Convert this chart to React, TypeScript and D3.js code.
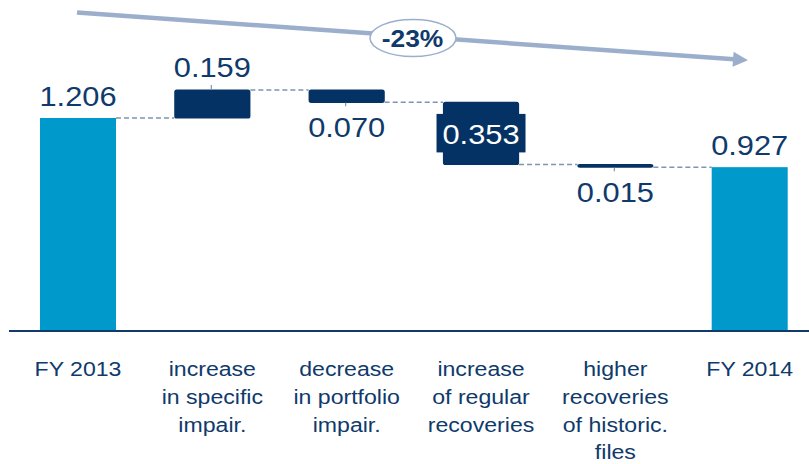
import React from "react";
import * as d3 from "d3";

// Waterfall: cost of risk bridge FY 2013 -> FY 2014
const categories: string[][] = [
  ["FY 2013"],
  ["increase", "in specific", "impair."],
  ["decrease", "in portfolio", "impair."],
  ["increase", "of regular", "recoveries"],
  ["higher", "recoveries", "of historic.", "files"],
  ["FY 2014"],
];
// signed steps; first and last entries are totals
const kinds = ["total", "delta", "delta", "delta", "delta", "total"];
const values = [1.206, 0.159, -0.07, -0.353, -0.015, 0.927];
const valueLabels = ["1.206", "0.159", "0.070", "0.353", "0.015", "0.927"];
const labelPlacement = ["above", "above", "below", "inside", "below", "above"];
const changeLabel = "-23%";

const W = 809;
const H = 464;
const NAVY = "#053264";
const TEXT = "#0f3a6b";
const LIGHT = "#0099cc";
const DASH = "#7f95b1";
const ARROW = "#9bafcd";
const FONT = "'Liberation Sans', Arial, sans-serif";

export default function App() {
  const x = d3
    .scalePoint<number>()
    .domain(d3.range(categories.length))
    .range([78, 749.7]);
  const y = d3.scaleLinear().domain([0, 1.206]).range([330.5, 118]);
  const barW = 76;

  // running totals for each step
  let running = 0;
  const bars = values.map((v, i) => {
    let lo: number, hi: number;
    if (kinds[i] === "total") {
      lo = 0;
      hi = v;
      running = v;
    } else {
      const start = running;
      running = start + v;
      lo = Math.min(start, running);
      hi = Math.max(start, running);
    }
    return { i, lo, hi, end: kinds[i] === "total" ? v : running };
  });

  const stretch = (cx: number, cy: number) => `translate(${cx},${cy}) scale(1.1,1)`;

  // trend arrow geometry
  const a0 = [77, 12.5];
  const tip = [748, 60.3];
  const ang = Math.atan2(tip[1] - a0[1], tip[0] - a0[0]);
  const headLen = 15;
  const headHalf = 7.5;
  const base = [tip[0] - headLen * Math.cos(ang), tip[1] - headLen * Math.sin(ang)];
  const px = -Math.sin(ang);
  const py = Math.cos(ang);
  const head = [
    tip,
    [base[0] + px * headHalf, base[1] + py * headHalf],
    [base[0] - px * headHalf, base[1] - py * headHalf],
  ];

  return (
    <svg
      width={W}
      height={H}
      style={{ position: "absolute", left: 0, top: 0, background: "#fff" }}
      fontFamily={FONT}
    >
      {/* connectors between consecutive bars */}
      {bars.slice(0, -1).map((b, k) => {
        const level = b.end;
        return (
          <line
            key={`c${k}`}
            x1={x(k)! + barW / 2}
            x2={x(k + 1)! - barW / 2}
            y1={y(level)}
            y2={y(level)}
            stroke={DASH}
            strokeWidth={1.5}
            strokeDasharray="5,3"
          />
        );
      })}

      {/* bars */}
      {bars.map((b) => {
        const cx = x(b.i)!;
        const isTotal = kinds[b.i] === "total";
        const top = y(b.hi);
        const bottom = y(b.lo);
        return isTotal ? (
          <rect
            key={`b${b.i}`}
            x={cx - barW / 2}
            y={top}
            width={barW}
            height={bottom - top}
            fill={LIGHT}
          />
        ) : (
          <rect
            key={`b${b.i}`}
            x={cx - barW / 2 + 1}
            y={top + 0.5}
            width={barW - 2}
            height={Math.max(bottom - top - 1, 0.5)}
            rx={1.5}
            fill={NAVY}
            stroke={NAVY}
            strokeWidth={2.2}
            strokeLinejoin="round"
          />
        );
      })}

      {/* axis baseline */}
      <line x1={9} x2={W} y1={331} y2={331} stroke={TEXT} strokeWidth={2} />

      {/* value labels */}
      {bars.map((b) => {
        const cx = x(b.i)!;
        const top = y(b.hi);
        const bottom = y(b.lo);
        const place = labelPlacement[b.i];
        if (place === "inside") {
          const mid = (top + bottom) / 2;
          return (
            <g key={`l${b.i}`}>
              <rect x={cx - 44.5} y={mid - 19.5} width={89} height={38.5} fill={NAVY} />
              <text
                transform={stretch(cx, mid + 10.5)}
                textAnchor="middle"
                fontSize={28}
                fill="#ffffff"
              >
                {valueLabels[b.i]}
              </text>
            </g>
          );
        }
        const isAbove = place === "above";
        const ty = isAbove ? top - 12.5 : bottom + 35;
        const showTick = kinds[b.i] === "delta";
        return (
          <g key={`l${b.i}`}>
            {showTick && (
              <line
                x1={cx - 1}
                x2={cx - 1}
                y1={isAbove ? top - 5 : bottom + 0.5}
                y2={isAbove ? top : bottom + 4}
                stroke={DASH}
                strokeWidth={1.2}
              />
            )}
            <text transform={stretch(cx, ty)} textAnchor="middle" fontSize={28} fill={TEXT}>
              {valueLabels[b.i]}
            </text>
          </g>
        );
      })}

      {/* category labels */}
      {categories.map((lines, i) => (
        <g key={`cat${i}`}>
          {lines.map((ln, j) => (
            <text
              key={j}
              transform={stretch(x(i)!, 376 + j * 27.8)}
              textAnchor="middle"
              fontSize={21}
              fill={TEXT}
            >
              {ln}
            </text>
          ))}
        </g>
      ))}

      {/* overall change arrow */}
      <line
        x1={a0[0]}
        y1={a0[1]}
        x2={base[0] + 1}
        y2={base[1]}
        stroke={ARROW}
        strokeWidth={4.5}
      />
      <polygon points={head.map((p) => p.join(",")).join(" ")} fill={ARROW} />
      <ellipse cx={413} cy={38} rx={43} ry={18.5} fill="#fff" stroke={ARROW} strokeWidth={1.5} />
      <text
        transform={stretch(412.5, 46.5)}
        textAnchor="middle"
        fontSize={24}
        fontWeight="bold"
        fill={TEXT}
      >
        {changeLabel}
      </text>
    </svg>
  );
}
